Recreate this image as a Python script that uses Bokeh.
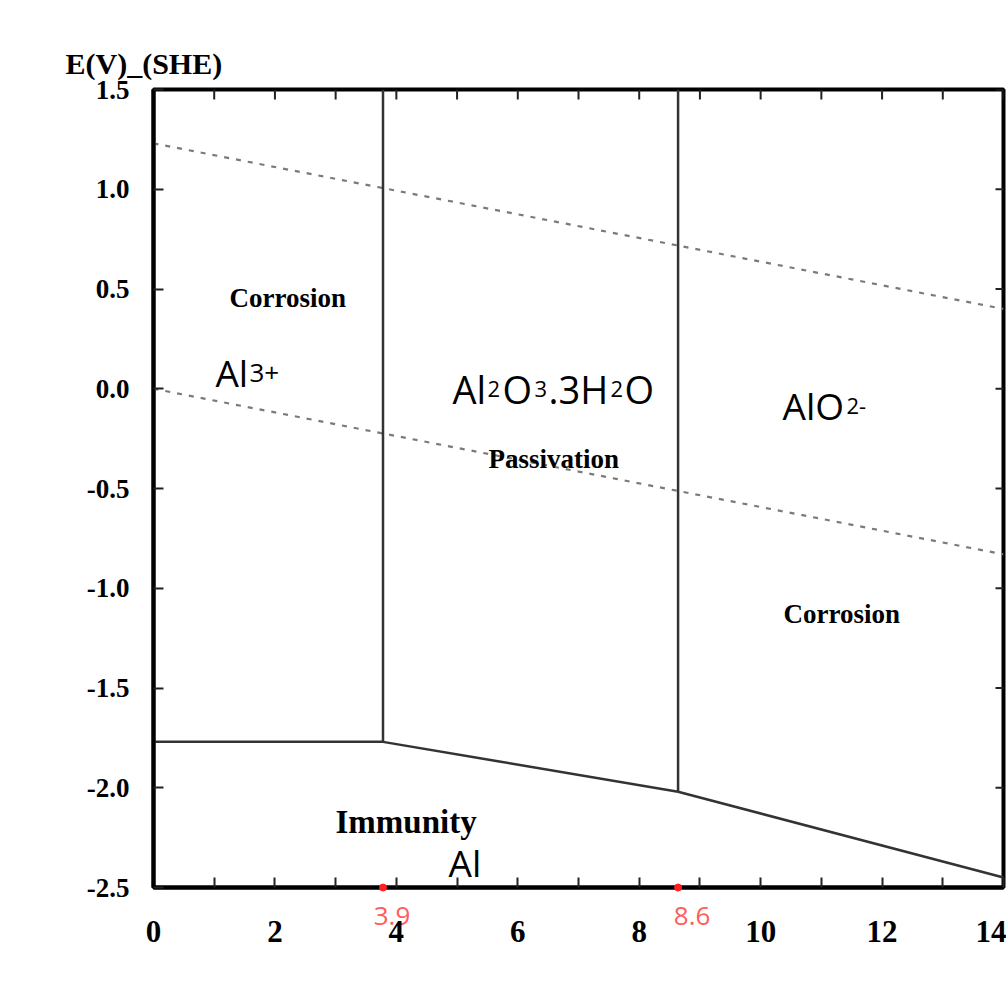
import math
from bokeh.plotting import figure
from bokeh.models import LinearAxis, Range1d, FixedTicker, Title
from bokeh.core.properties import value
from bokeh.embed import file_html
from bokeh.resources import INLINE

# ---------------- data ----------------
ph_water = [0, 14]
e_o2_line = [1.23, 0.40]      # upper water stability line
e_h2_line = [0.00, -0.83]     # lower water stability line

ph_al3_al = [0, 3.78]
e_al3_al = [-1.77, -1.77]
ph_al3_ox = [3.78, 3.78]
e_al3_ox = [-1.77, 1.5]
ph_ox_al = [3.78, 8.64]
e_ox_al = [-1.77, -2.02]
ph_ox_alo2 = [8.64, 8.64]
e_ox_alo2 = [-2.02, 1.5]
ph_alo2_al = [8.64, 14]
e_alo2_al = [-2.02, -2.45]

mark_ph = [3.78, 8.64]
mark_e = [-2.5, -2.5]
mark_labels = ["3.9", "8.6"]

x_ticks = [0, 2, 4, 6, 8, 10, 12, 14]
x_tick_labels = ["0", "2", "4", "6", "8", "10", "12", "14"]
x_minor = list(range(0, 15))
y_ticks = [-2.5, -2.0, -1.5, -1.0, -0.5, 0.0, 0.5, 1.0, 1.5]
y_tick_labels = ["-2.5", "-2.0", "-1.5", "-1.0", "-0.5", "0.0", "0.5", "1.0", "1.5"]

X0, X1, Y0, Y1 = 0, 14, -2.5, 1.5

# ---------------- figure ----------------
p = figure(width=1006, height=988, x_range=Range1d(X0, X1), y_range=Range1d(Y0, Y1),
           output_backend="svg", toolbar_location=None, x_axis_location=None,
           min_border_left=153, min_border_right=3, min_border_top=89, min_border_bottom=101)
p.grid.visible = False
p.outline_line_color = "black"
p.outline_line_width = 4
p.background_fill_color = "white"
p.border_fill_color = "white"

px_per_ph = (1006 - 153 - 3) / (X1 - X0)

# bottom axis next to the frame: frame line, inside ticks each pH unit, red annotations
lab_shift_px = [9, 14]
red_pos = [round(ph + s / px_per_ph, 3) for ph, s in zip(mark_ph, lab_shift_px)]
axA = LinearAxis(ticker=FixedTicker(ticks=red_pos, minor_ticks=x_minor),
                 major_label_overrides={t: s for t, s in zip(red_pos, mark_labels)})
axA.axis_line_width = 4
axA.axis_line_color = "black"
axA.major_tick_in = 0
axA.major_tick_out = 0
axA.minor_tick_in = 10
axA.minor_tick_out = 0
axA.minor_tick_line_width = 2
axA.minor_tick_line_color = "#222222"
axA.major_label_text_font = "Open Sans"
axA.major_label_text_font_size = "26px"
axA.major_label_text_color = "#ff5c5c"
axA.major_label_standoff = 19
p.add_layout(axA, "below")

# numeric pH labels
axB = LinearAxis(ticker=FixedTicker(ticks=x_ticks, minor_ticks=[]),
                 major_label_overrides={t: s for t, s in zip(x_ticks, x_tick_labels)})
axB.axis_line_color = None
axB.major_tick_line_color = None
axB.minor_tick_line_color = None
axB.major_tick_in = 0
axB.major_tick_out = 0
axB.major_label_text_font = "Liberation Serif"
axB.major_label_text_font_style = "bold"
axB.major_label_text_font_size = "31px"
axB.major_label_text_color = "black"
axB.major_label_standoff = -7
p.add_layout(axB, "below")

ya = p.left[0]
ya.ticker = FixedTicker(ticks=y_ticks, minor_ticks=[])
ya.major_label_overrides = {t: s for t, s in zip(y_ticks, y_tick_labels)}
ya.axis_line_width = 4
ya.axis_line_color = "black"
ya.major_tick_in = 10
ya.major_tick_out = 0
ya.minor_tick_in = 0
ya.minor_tick_out = 0
ya.major_tick_line_width = 2
ya.major_tick_line_color = "#222222"
ya.major_label_text_font = "Liberation Serif"
ya.major_label_text_font_style = "bold"
ya.major_label_text_font_size = "27px"
ya.major_label_text_color = "black"
ya.major_label_standoff = 24

# inside ticks on the top and right frame edges
p.ray(x=x_minor, y=[Y1] * len(x_minor), length=10, angle=-math.pi / 2,
      length_units="screen", line_color="#222222", line_width=2)
p.ray(x=[X1] * len(y_ticks), y=y_ticks, length=8, angle=math.pi,
      length_units="screen", line_color="#222222", line_width=2)

# title (y axis name)
p.title = Title(text="E(V)_(SHE)", align="left", offset=-88, standoff=20,
                text_font="Liberation Serif", text_font_style="bold",
                text_font_size="30px", text_color="black")

# ---------------- lines ----------------
dash_kw = dict(line_color="#7a7a7a", line_width=2.2, line_dash="5 7")
p.line(ph_water, e_o2_line, **dash_kw)
p.line(ph_water, e_h2_line, **dash_kw)

bkw = dict(line_color="#333333", line_width=2.5)
p.line(ph_al3_al, e_al3_al, **bkw)
p.line(ph_al3_ox, e_al3_ox, **bkw)
p.line(ph_ox_al, e_ox_al, **bkw)
p.line(ph_ox_alo2, e_ox_alo2, **bkw)
p.line(ph_alo2_al, e_alo2_al, **bkw)

p.scatter(mark_ph, mark_e, size=7, color="#ff2020", level="overlay")

# ---------------- labels ----------------
def pieces(ph, e, parts, font="Open Sans", style="normal"):
    for txt, off, size in parts:
        p.text(x=[ph], y=[e], text=[txt], x_offset=off,
               text_font=value(font), text_font_style=style,
               text_font_size=value(f"{size}px"),
               text_baseline="alphabetic", text_align="left", text_color="black")

pieces(1.02, 0.081, [("Al", 0, 37), ("3+", 34, 26)])
pieces(4.925, 0.001, [("Al", 0, 38), ("2", 35, 22), ("O", 50, 38), ("3", 82, 22),
                      (".3H", 96, 38), ("2", 158, 22), ("O", 172, 38)])
pieces(10.36, -0.084, [("AlO", 0, 37), ("2-", 64, 22)])
pieces(4.86, -2.375, [("Al", 0, 37)])

pieces(1.252, 0.457, [("Corrosion", 0, 27)], font="Liberation Serif", style="bold")
pieces(5.518, -0.350, [("Passivation", 0, 27)], font="Liberation Serif", style="bold")
pieces(10.377, -1.127, [("Corrosion", 0, 27)], font="Liberation Serif", style="bold")
pieces(2.998, -2.174, [("Immunity", 0, 33)], font="Liberation Serif", style="bold")

open("out.html", "w").write(file_html(p, INLINE))
